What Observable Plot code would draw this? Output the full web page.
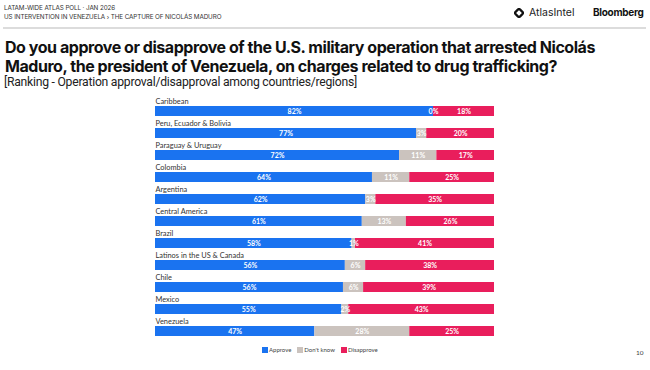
<!DOCTYPE html>
<html>
<head>
<meta charset="utf-8">
<script src="https://cdn.jsdelivr.net/npm/d3@7"></script>
<script src="https://cdn.jsdelivr.net/npm/@observablehq/plot@0.6"></script>
<style>
  html, body { margin: 0; padding: 0; background: #fff; }
  #page { position: relative; width: 650px; height: 370px; overflow: hidden; font-family: Lato, sans-serif; color: #222; }
  .abs { position: absolute; white-space: nowrap; }
  #kicker { left: 4px; top: 4px; font-family: Inter, sans-serif; font-size: 6.3px; line-height: 8.5px; color: #333; letter-spacing: -0.1px; }
  #rule { left: 3px; top: 27px; width: 643px; height: 2px; background: #dcdcdc; }
  #atlas { left: 514px; top: 6px; font-family: Inter, sans-serif; font-size: 10.5px; color: #222; display: flex; align-items: center; gap: 5px; }
  #bloom { left: 593px; top: 6px; font-family: Inter, sans-serif; font-size: 10px; font-weight: 700; color: #111; letter-spacing: -0.3px; }
  #title { left: 5px; top: 38px; font-family: Inter, sans-serif; font-size: 16px; font-weight: 700; line-height: 19px; color: #111; letter-spacing: -0.45px; }
  #subtitle { left: 4px; top: 75px; font-family: Roboto, sans-serif; font-size: 12.2px; font-weight: 400; color: #222; letter-spacing: -0.25px; }
  #chart { left: 0; top: 98px; }
  #legend { left: 262px; top: 346px; font-size: 6px; color: #444; display: flex; gap: 6px; align-items: center; }
  #legend span.sw { display: inline-block; width: 6px; height: 6px; margin-right: 1px; vertical-align: -1px; }
  #pagenum { left: 636px; top: 349px; font-size: 6.5px; color: #444; }
</style>
</head>
<body>
<div id="page">
  <div id="kicker" class="abs">LATAM-WIDE ATLAS POLL · JAN 2026<br>US INTERVENTION IN VENEZUELA › THE CAPTURE OF NICOLÁS MADURO</div>
  <div id="rule" class="abs"></div>
  <div id="atlas" class="abs"><svg width="10" height="10" viewBox="0 0 10 10"><rect x="1.8" y="1.8" width="6.4" height="6.4" rx="1.6" transform="rotate(45 5 5)" fill="none" stroke="#111" stroke-width="2.2"/></svg><span>AtlasIntel</span></div>
  <div id="bloom" class="abs">Bloomberg</div>
  <div id="title" class="abs">Do you approve or disapprove of the U.S. military operation that arrested Nicolás<br>Maduro, the president of Venezuela, on charges related to drug trafficking?</div>
  <div id="subtitle" class="abs">[Ranking - Operation approval/disapproval among countries/regions]</div>
  <div id="chart" class="abs"></div>
  <div id="legend" class="abs"></div>
  <div id="pagenum" class="abs">10</div>
</div>
<script>
const regions = ["Caribbean", "Peru, Ecuador & Bolivia", "Paraguay & Uruguay", "Colombia", "Argentina", "Central America", "Brazil", "Latinos in the US & Canada", "Chile", "Mexico", "Venezuela"];
const approve =    [82, 77, 72, 64, 62, 61, 58, 56, 56, 55, 47];
const dontKnow =   [0, 3, 11, 11, 3, 13, 1, 6, 6, 2, 28];
const disapprove = [18, 20, 17, 25, 35, 26, 41, 38, 39, 43, 25];
const responses = ["Approve", "Don't know", "Disapprove"];
const colors = ["#1a73f0", "#cbc3be", "#e91e5c"];

const series = [approve, dontKnow, disapprove];
const rows = [];
regions.forEach((r, i) => {
  responses.forEach((resp, j) => rows.push({region: r, response: resp, value: series[j][i]}));
});

const stackOpts = {x: "value", y: "region", z: "response", order: responses, offset: "normalize"};

const chart = Plot.plot({
  width: 650,
  height: 242,
  marginLeft: 155,
  marginRight: 156,
  marginTop: 0,
  marginBottom: 0,
  style: {overflow: "visible", fontFamily: "Lato, sans-serif"},
  x: {axis: null, domain: [0, 1]},
  y: {axis: null, domain: regions, padding: 0},
  color: {domain: responses, range: colors},
  marks: [
    Plot.barX(rows, Plot.stackX({...stackOpts, fill: "response", insetTop: 8, insetBottom: 4})),
    Plot.text(rows, Plot.stackX({...stackOpts, text: d => d.value + "%", fill: "white", fontWeight: "bold", fontSize: 7, dy: 2})),
    Plot.text(regions, {y: d => d, frameAnchor: "left", textAnchor: "start", dy: -8, fontSize: 7.4, fill: "#333"})
  ]
});
document.getElementById("chart").appendChild(chart);

const legend = document.getElementById("legend");
responses.forEach((r, i) => {
  const item = document.createElement("span");
  item.innerHTML = `<span class="sw" style="background:${colors[i]}"></span>${r}`;
  legend.appendChild(item);
});
</script>
</body>
</html>
